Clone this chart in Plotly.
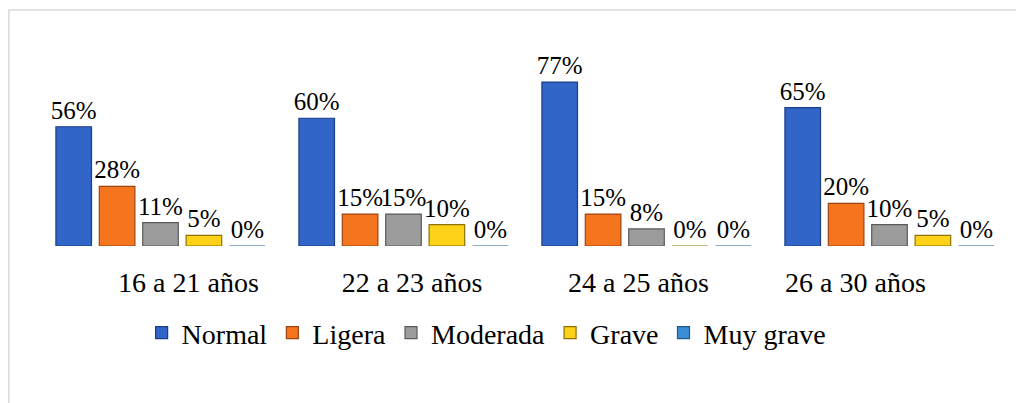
import plotly.graph_objects as go

# --- DATA ---
CATEGORIES = ["16 a 21 años", "22 a 23 años", "24 a 25 años", "26 a 30 años"]
NORMAL = [56, 60, 77, 65]
LIGERA = [28, 15, 15, 20]
MODERADA = [11, 15, 8, 10]
GRAVE = [5, 10, 0, 5]
MUY_GRAVE = [0, 0, 0, 0]

SERIES = [
    ("Normal", NORMAL, "#3265C8", "#1D3E86"),
    ("Ligera", LIGERA, "#F4751E", "#9C4410"),
    ("Moderada", MODERADA, "#9C9C9C", "#5A5A5A"),
    ("Grave", GRAVE, "#FFD21A", "#8C7200"),
    ("Muy grave", MUY_GRAVE, "#3B8ED3", "#1F5A8C"),
]

FONT = "Liberation Serif, Times New Roman, serif"
x_pos = list(range(len(CATEGORIES)))
# category labels in the source sit slightly off the bar groups
label_pos = [0.115, 1.035, 1.967, 2.86]

fig = go.Figure()
for name, vals, color, edge in SERIES:
    fig.add_trace(go.Bar(
        x=x_pos, y=vals, name=name,
        marker=dict(color=color, line=dict(color=edge, width=1.2)),
        texttemplate="%{y}%", textposition="outside", constraintext="none",
        textfont=dict(family=FONT, size=25, color="black"),
        cliponaxis=False,
    ))

fig.update_layout(
    width=1016, height=395,
    plot_bgcolor="white", paper_bgcolor="white",
    font=dict(family=FONT, size=28, color="black"),
    barmode="group", bargap=0.107, bargroupgap=0.18,
    margin=dict(l=31, r=13, t=57, b=157),
    showlegend=True,
    legend=dict(orientation="h", x=0.46, xanchor="center", y=-0.48, yanchor="middle",
                font=dict(family=FONT, size=28)),
    xaxis=dict(range=[-0.5, 3.5], tickvals=label_pos, ticktext=CATEGORIES,
               showline=False, showgrid=False, zeroline=False, ticks="",
               ticklabelstandoff=17, tickfont=dict(family=FONT, size=28)),
    yaxis=dict(range=[0, 85], visible=False),
    shapes=[dict(type="rect", xref="paper", yref="paper",
                 x0=-0.031, x1=1.03, y0=-0.95, y1=1.304,
                 line=dict(color="#D9D9D9", width=1.5), fillcolor="rgba(0,0,0,0)")],
)

fig.write_html("out.html")
